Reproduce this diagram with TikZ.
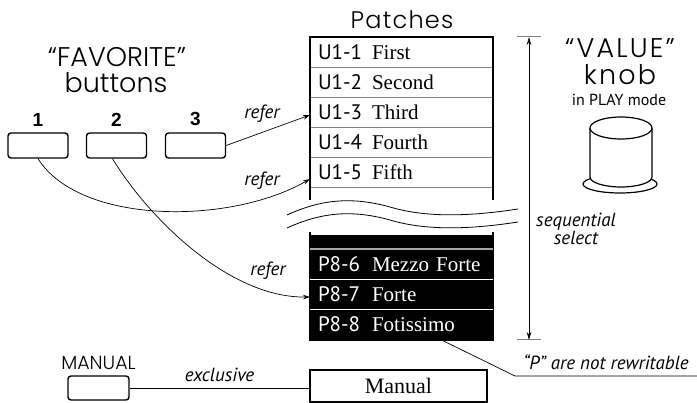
\documentclass[tikz,border=0pt]{standalone}
\usepackage{fontspec}
\setmainfont{Liberation Serif}
\setsansfont{PT Sans}
\IfFontExistsTF{Poppins Light}
  {\newfontfamily\geofont{Poppins Light}\newfontfamily\widegeofont[LetterSpace=8]{Poppins Light}}
  {\newfontfamily\geofont{Poppins}\newfontfamily\widegeofont[LetterSpace=8]{Poppins}}
\newfontfamily\numfont{Liberation Sans}
\usetikzlibrary{positioning,arrows.meta}

\tikzset{
  title/.style={font=\geofont\fontsize{27}{29}\selectfont, inner sep=0pt},
  widetitle/.style={font=\widegeofont\fontsize{27}{29}\selectfont, inner sep=0pt},
  remark/.style={font=\sffamily\itshape\fontsize{19}{21}\selectfont, inner sep=0pt},
  favbtn/.style={draw, line width=1.4pt, rounded corners=3pt, minimum width=60pt, minimum height=25pt, inner sep=0pt},
  patch/.style={minimum width=183pt, minimum height=30pt, inner xsep=8pt, inner ysep=0pt, outer sep=0pt,
    text width=167pt, align=left, font=\fontsize{21}{23}\selectfont},
  frame/.style={line width=1.4pt},
  refer/.style={-{Stealth[length=7pt,width=4.5pt]}, line width=0.7pt},
}
\newcommand{\patchname}[2]{\makebox[54pt][l]{\sffamily #1}#2}

\begin{document}
\begin{tikzpicture}[x=1pt,y=-1pt]
\useasboundingbox (0,0) rectangle (697,403);

% titles
\node[font=\geofont\addfontfeature{LetterSpace=5}\fontsize{24}{26}\selectfont, inner sep=0pt] (patches) at (402,20) {Patches};
\node[title] (favtitle) at (117,57) {“FAVORITE”};
\node[title] (buttons) at (116,83) {buttons};
\node[widetitle] (valtitle) at (620,48) {“VALUE”};
\node[widetitle] (knob) at (620,75) {knob};
\node[font=\sffamily\fontsize{16}{18}\selectfont, inner sep=0pt] (playmode) at (619,100) {in PLAY mode};

% favorite buttons
\foreach \n/\x in {1/38,2/116.5,3/195.5} {
  \node[favbtn] (fav\n) at (\x,145.5) {};
  \node[font=\numfont\bfseries\fontsize{19}{21}\selectfont, inner sep=0pt] (num\n) [above=6pt of fav\n] {\n};
}

% user patches
\node[patch] (u11) at (401.5,52) {\patchname{U1-1}{First}};
\foreach \i/\nm [remember=\i as \j (initially 1)] in {2/Second,3/Third,4/Fourth,5/Fifth} {
  \node[patch, below=0pt of u1\j] (u1\i) {\patchname{U1-\i}{\nm}};
}
\foreach \i in {1,...,5}
  \draw[gray, line width=0.8pt] (u1\i.south west) -- (u1\i.south east);
\draw[frame] ([yshift=-13pt]u15.south west) -- (u11.north west) -- (u11.north east) -- ([yshift=-13pt]u15.south east);

% preset patches
\fill (310,235) rectangle (493,340);
\draw[frame] (310,232) -- (310,340) -- (493,340) -- (493,232);
\node[patch, text=white] (p86) at (401.5,264) {\patchname{P8-6}{Mezzo Forte}};
\node[patch, text=white, below=0pt of p86] (p87) {\patchname{P8-7}{Forte}};
\node[patch, text=white, below=0pt of p87] (p88) {\patchname{P8-8}{Fotissimo}};
\draw[gray!70, line width=1.4pt] (p86.north west) -- (p86.north east);
\foreach \r in {p86,p87}
  \draw[white, line width=0.7pt] (\r.south west) -- (\r.south east);

% break in the list
\fill[white] (287,215) .. controls (320,200) and (350,196) .. (390,207) .. controls (420,216) and (460,218) .. (518,209)
  -- (518,222) .. controls (460,231) and (420,229) .. (390,220) .. controls (350,209) and (320,213) .. (287,228) -- cycle;
\foreach \dy in {0,13}
  \draw[yshift=-\dy pt, line width=0.8pt] (287,215) .. controls (320,200) and (350,196) .. (390,207) .. controls (420,216) and (460,218) .. (518,209);

% knob
\filldraw[fill=white, line width=1.2pt] (620,184) ellipse [x radius=37pt, y radius=9pt];
\filldraw[fill=white, line width=1.2pt] (590,128) -- (590,177) arc [start angle=180, end angle=360, x radius=31pt, y radius=10pt] -- (652,128);
\filldraw[fill=white, line width=1.2pt] (621,128) ellipse [x radius=31pt, y radius=11pt];

% sequential select
\coordinate (seqtop) at (529,37);
\coordinate (seqbot) at (529,340);
\draw[gray, line width=1pt] ([xshift=-12pt]seqtop) -- ([xshift=12pt]seqtop);
\draw[gray, line width=1pt] ([xshift=-12pt]seqbot) -- ([xshift=12pt]seqbot);
\draw[{Stealth[length=8pt,width=4.5pt]}-{Stealth[length=8pt,width=4.5pt]}, line width=0.7pt] (seqtop) -- (seqbot);
\node[remark] (seqlabel) at (576,231) {\begin{tabular}{@{}c@{}}sequential\\[-3pt]select\end{tabular}};

% references
\draw[refer] (fav3.east) -- ([yshift=-3pt]u13.west);
\node[remark] (ref1) at (262,114) {refer};
\draw[refer] (fav1.south) .. controls (80,225) and (230,225) .. ([yshift=-7pt]u15.west);
\node[remark] (ref2) at (262,181) {refer};
\draw[refer] ([xshift=-4pt]fav2.south) .. controls (150,220) and (230,298) .. ([yshift=-3pt]p87.west);
\node[remark] (ref3) at (268,271) {refer};

% not rewritable
\coordinate (bend) at (515,376);
\coordinate (lineend) at (697,376);
\draw[line width=0.7pt] ([xshift=38pt]p88.south) -- (bend) -- (lineend);
\node[remark, anchor=south] (norewrite) at (606,370) {“P” are not rewritable};

% manual
\node[favbtn, minimum width=61pt, minimum height=24pt] (manbtn) at (98.5,388) {};
\node[font=\geofont\fontsize{19}{21}\selectfont, inner sep=0pt] (manlabel) at (98.5,363) {MANUAL};
\node[draw, frame, minimum width=177pt, minimum height=32pt, inner sep=0pt, font=\fontsize{22}{24}\selectfont] (manual) at (398.5,386) {Manual};
\draw[line width=0.7pt] (manbtn.east) -- node[remark, above=6pt] {exclusive} (manbtn.east -| manual.west);
\end{tikzpicture}
\end{document}
